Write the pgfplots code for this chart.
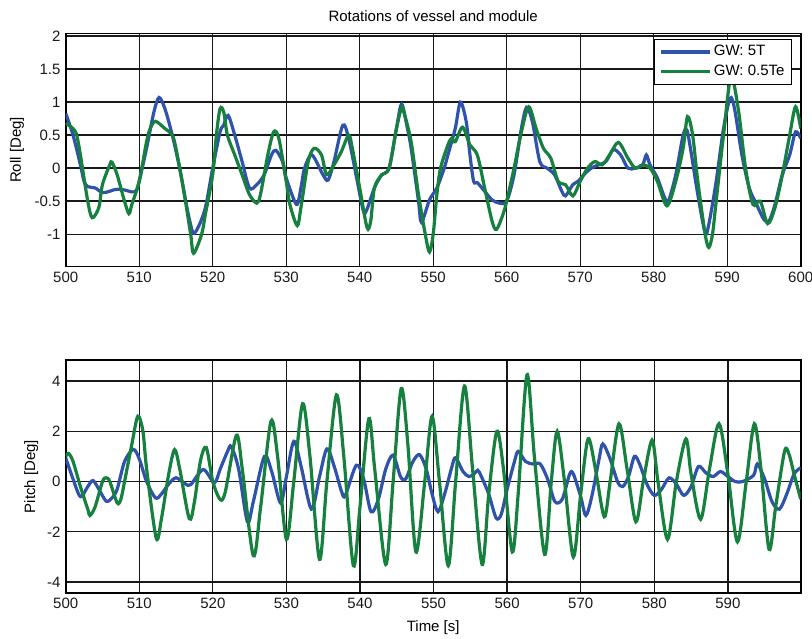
\documentclass[border=0pt]{standalone}
\usepackage{fontspec}
\setmainfont{Liberation Sans}
\usepackage{pgfplots}
\pgfplotsset{compat=1.18}
\definecolor{gwblue}{RGB}{47,82,170}
\definecolor{gwgreen}{RGB}{22,128,62}
\pgfplotsset{
  matstyle/.style={
    scale only axis, width=735pt, height=233pt,
    xmin=500,
    grid=major, grid style={black!90, line width=1.3pt},
    axis line style={black, line width=1.8pt},
    major tick length=0pt,
    /pgf/number format/assume math mode=true,
    tick label style={black!90},
    xtick={500,510,...,600},
    every axis plot/.append style={line width=3.2pt, smooth, tension=0.5},
    every axis title/.style={at={(axis description cs:0.5,1)}, anchor=base, yshift=12pt},
    every axis x label/.style={at={(axis description cs:0.5,0)}, anchor=north, yshift=-27pt, inner sep=0pt},
  }
}
\begin{document}
\fontsize{15}{18}\selectfont
\begin{tikzpicture}
% top: roll
\begin{axis}[matstyle,
  at={(0pt,0pt)}, anchor=south west,
  xmax=600, ymin=-1.49, ymax=2.04,
  ytick={-1,-0.5,0,0.5,1,1.5,2},
  title={Rotations of vessel and module},
  ylabel={Roll [Deg]},
  every axis y label/.style={at={(axis description cs:-0.0663,0.5)}, rotate=90, anchor=center},
  legend style={at={(0.988,0.976)}, anchor=north east, draw=black, line width=0.8pt, fill=white,
    inner xsep=5pt, inner ysep=4pt, row sep=3pt, nodes={inner sep=2pt, text=black}, cells={anchor=west}},
  legend image code/.code={\draw[#1, line width=3.6pt] (0pt,0pt) -- (49pt,0pt);},
]
\addplot[gwblue] coordinates {
(500,0.83) (501,0.5) (502,0.05) (502.5,-0.2) (503,-0.28) (504,-0.3) (505,-0.37) (506,-0.35)
(506.5,-0.33) (507,-0.32) (508,-0.33) (509,-0.36) (509.6,-0.34) (510,-0.2) (511,0.3) (512,0.85)
(512.7,1.07) (513.5,0.9) (514.5,0.5) (515.5,0.0) (516.5,-0.6) (517.3,-0.97) (518,-0.9) (519,-0.6)
(520,0.0) (521,0.55) (521.5,0.65) (522.1,0.8) (523,0.5) (524,0.1) (525,-0.3) (526,-0.25)
(527,-0.1) (528,0.2) (528.6,0.27) (529.5,0.1) (530,-0.15) (531.4,-0.55) (532,-0.3) (532.5,0.0)
(533.5,0.2) (535,-0.1) (535.7,-0.18) (536.5,0.1) (537.7,0.65) (538.5,0.45) (539.5,-0.1) (540.5,-0.65)
(541,-0.62) (542,-0.3) (543,-0.1) (544,0.0) (545,0.6) (545.7,0.97) (546.5,0.6) (547,0.3)
(548,-0.5) (548.4,-0.82) (549.5,-0.48) (550.5,-0.3) (551.5,0.0) (552,0.2) (553,0.6) (553.7,1.0)
(554.5,0.7) (555,0.2) (555.5,-0.2) (556,-0.22) (557,-0.35) (558,-0.48) (559,-0.53) (560,-0.5)
(561,-0.1) (562,0.6) (562.7,0.92) (563.5,0.7) (564.5,0.1) (565.5,0.0) (566.5,-0.1) (567.5,-0.35)
(568,-0.42) (569,-0.25) (569.7,-0.2) (570.5,-0.1) (571.5,0.0) (572.5,0.05) (573.5,0.1) (574.5,0.28)
(575.5,0.2) (576.5,0.0) (577.5,0.0) (578.5,0.05) (579,0.2) (579.5,0.05) (580.5,-0.15) (581.5,-0.45)
(582,-0.5) (583,-0.1) (584,0.5) (584.5,0.58) (585,0.3) (586,-0.4) (587,-0.98) (587.5,-0.85)
(588.5,-0.2) (589.5,0.6) (590.4,1.06) (591,0.9) (592,0.2) (593,-0.3) (594,-0.55) (595,-0.78)
(595.7,-0.8) (596.5,-0.55) (597.5,-0.1) (598.5,0.2) (599.3,0.55) (600,0.45)
};
\addplot[gwgreen] coordinates {
(500,0.68) (501,0.6) (501.5,0.5) (502,0.2) (503,-0.5) (503.6,-0.75) (504.5,-0.6) (505,-0.25)
(506,0.05) (506.3,0.09) (507,-0.1) (508,-0.5) (508.6,-0.69) (509,-0.55) (510,-0.2) (511,0.4)
(511.5,0.6) (512.2,0.71) (513.5,0.6) (514.5,0.5) (515,0.3) (516,-0.3) (517,-1.0) (517.4,-1.29)
(518.5,-1.0) (519,-0.7) (520,-0.1) (520.5,0.5) (521,0.9) (521.5,0.85) (522,0.5) (523,0.2)
(524,-0.1) (525,-0.4) (526,-0.53) (526.5,-0.4) (527.5,0.2) (528.3,0.55) (529,0.45) (530,-0.2)
(530.5,-0.55) (531.5,-0.87) (532,-0.6) (533,0.1) (533.8,0.3) (534.8,0.2) (535.5,-0.1) (536.5,0.05)
(537.5,0.25) (538.5,0.5) (539,0.3) (540,-0.3) (541,-0.9) (541.5,-0.8) (542,-0.3) (543,-0.1)
(544,0.0) (545,0.6) (545.7,0.92) (546,0.85) (547,0.4) (548,-0.4) (549,-1.05) (549.5,-1.27)
(550,-1.0) (550.5,-0.4) (551,0.0) (552,0.35) (552.5,0.45) (553,0.4) (554,0.62) (555,0.35)
(556,0.2) (557,-0.3) (558,-0.8) (558.6,-0.93) (559.5,-0.7) (560,-0.5) (561,0.0) (562,0.55)
(563,0.93) (564,0.6) (565,0.3) (566,0.15) (567,-0.2) (568,-0.25) (569,-0.42) (570,-0.2)
(571,0.0) (572,0.1) (573,0.05) (574,0.2) (575.2,0.39) (576.5,0.15) (577.5,0.0) (578.5,0.05)
(579.5,0.0) (580.5,-0.2) (581.8,-0.57) (583,-0.2) (584,0.3) (584.6,0.78) (585.3,0.5) (586,-0.2)
(587,-1.0) (587.5,-1.2) (588,-1.0) (588.5,-0.5) (589.5,0.5) (590.5,1.38) (591.5,0.9) (592.5,0.0)
(593.5,-0.55) (594.5,-0.5) (595.5,-0.84) (596.5,-0.6) (597.5,-0.1) (598.5,0.5) (599.3,0.93) (600,0.6)
};
\legend{GW: 5T, GW: 0.5Te}
\end{axis}
% bottom: pitch
\begin{axis}[matstyle,
  at={(0pt,-326.6pt)}, anchor=south west,
  xmax=599.9, ymin=-4.44, ymax=4.835,
  ytick={-4,-2,0,2,4},
  xlabel={Time [s]},
  ylabel={Pitch [Deg]},
  every axis y label/.style={at={(axis description cs:-0.0467,0.5)}, rotate=90, anchor=center},
]
\addplot[gwblue] coordinates {
(500,0.95) (501,0.1) (502,-0.6) (503,-0.2) (503.7,0.04) (504.5,-0.3) (505.5,-0.78) (506.3,-0.65)
(507,-0.3) (508,0.8) (509.2,1.28) (510,0.9) (511,0.0) (512.2,-0.65) (513,-0.5) (514,-0.1)
(515,0.15) (516.3,-0.1) (517,-0.12) (518.7,0.48) (520.2,-0.05) (521,0.5) (522,1.2) (522.5,1.4)
(523.5,0.5) (524.7,-1.6) (525.5,-0.8) (527,1.0) (528,0.4) (529.2,-0.85) (530,0.2) (531,1.6)
(532,0.6) (533.4,-1.1) (534.5,0.2) (535.5,1.3) (536.5,0.6) (537.5,-0.4) (538,-0.55) (539.5,0.65)
(540.5,0.1) (541.5,-1.2) (542.5,-0.7) (543.5,0.5) (544.5,1.05) (545.5,0.2) (546.2,0.1) (547.2,0.8)
(548.1,1.07) (549,0.5) (549.8,-0.5) (550.6,-1.2) (551.5,-0.5) (552.5,0.6) (553,0.95) (554,0.4)
(554.8,0.2) (555.5,0.3) (556,0.45) (556.5,0.2) (557.5,-0.5) (558.5,-1.45) (559.2,-1.3) (560,-0.3)
(561,0.8) (561.5,1.2) (562.5,0.8) (563.5,0.7) (564.5,0.7) (565.5,0.1) (566.5,-0.8) (567.5,-0.7)
(568.5,0.3) (569,0.3) (570,-0.6) (570.7,-1.35) (571.5,-0.6) (572.5,0.9) (573,1.5) (574,0.9)
(575,0.0) (575.7,-0.2) (576.5,0.2) (577.3,1.0) (578,0.7) (579,-0.1) (580,-0.55) (581,-0.3)
(582,0.15) (583,-0.1) (584,-0.55) (585,-0.2) (586,0.6) (587,0.35) (588,0.2) (589,0.4)
(590,0.2) (591,0.0) (592,0.0) (593.5,0.25) (594,0.7) (595,0.1) (596,-0.8) (597,-1.1)
(598,-0.5) (599,0.3) (599.9,0.55)
};
\addplot[gwgreen] coordinates {
(500,1.0) (500.4,1.12) (501,0.8) (502,-0.2) (503,-1.1) (503.3,-1.35) (504,-1.0) (505,0.0)
(505.5,0.15) (506,0.0) (507,-0.85) (507.5,-0.7) (508,0.0) (509,1.5) (509.8,2.6) (510.5,2.0)
(511,0.5) (512.3,-2.25) (513,-1.5) (514,0.3) (514.8,1.27) (515.5,0.5) (516.8,-1.48) (517.5,-0.8)
(518.3,0.8) (519.1,1.36) (520,0.0) (521,-0.72) (521.7,-0.4) (523.2,1.84) (524,0.5) (525.5,-2.95)
(526.5,-1.0) (527.9,2.4) (528.8,1.0) (530,-2.3) (531,0.0) (532.2,3.1) (533.2,1.0) (534.5,-3.1)
(535.5,0.0) (536.8,3.45) (537.8,1.0) (539.1,-3.35) (540,-1.0) (541.2,2.5) (542,0.5) (543.5,-3.3)
(544.5,0.0) (545.6,3.7) (546.5,1.5) (547.6,-2.8) (548.8,0.0) (549.8,2.6) (550.8,0.0) (552,-3.35)
(553,0.0) (554.2,3.8) (555.3,0.5) (556.6,-3.3) (557.5,-0.5) (558.6,2.0) (559.5,0.5) (560.7,-2.8)
(561.5,-0.5) (562.7,4.25) (563.7,1.0) (565.1,-2.9) (566,0.0) (566.8,2.0) (567.8,0.0) (569,-3.0)
(570,-0.5) (571,1.7) (572,0.5) (573.2,-1.4) (574,0.0) (575.2,2.3) (576.3,0.5) (577.5,-1.6)
(578.5,0.0) (579.7,1.65) (580.5,0.0) (581.8,-2.3) (583,0.0) (584.3,1.7) (585,0.3) (586.3,-1.5)
(587.5,0.5) (588.8,2.3) (590,0.3) (591.3,-2.4) (592.5,0.0) (593.6,2.3) (594.5,0.5) (595.6,-2.7)
(596.5,-1.0) (597.7,1.2) (598.3,1.1) (599,0.3) (599.9,-0.7)
};
\end{axis}
\pgfresetboundingbox
\path[use as bounding box] (-65.7pt,-372.3pt) rectangle (746.3pt,266.5pt);
\end{tikzpicture}
\end{document}
